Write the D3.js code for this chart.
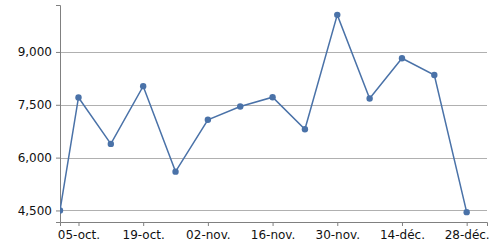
<!DOCTYPE html>
<html>
<head>
<meta charset="utf-8">
<script src="https://cdn.jsdelivr.net/npm/d3@7"></script>
<style>
  body { margin: 0; background: #fff; }
  svg { display: block; font-family: "DejaVu Sans", sans-serif; }
</style>
</head>
<body>
<div id="chart"></div>
<script>
'use strict';

const dates = ['2020-10-01', '2020-10-05', '2020-10-12', '2020-10-19', '2020-10-26',
    '2020-11-02', '2020-11-09', '2020-11-16', '2020-11-23', '2020-11-30',
    '2020-12-07', '2020-12-14', '2020-12-21', '2020-12-28'];
const values = [4500, 7708, 6390, 8029, 5602, 7073, 7452, 7716, 6806, 10053,
    7679, 8821, 8346, 4452];
const xTicks = ['2020-10-05', '2020-10-19', '2020-11-02', '2020-11-16',
    '2020-11-30', '2020-12-14', '2020-12-28'];
const yTicks = [4500, 6000, 7500, 9000];

const width = 496;
const height = 250;
const margin = { top: 5, right: 9, bottom: 28, left: 60 };

const parse = d3.timeParse('%Y-%m-%d');
const fr = d3.timeFormatLocale({
    dateTime: '%A %e %B %Y à %X',
    date: '%d/%m/%Y',
    time: '%H:%M:%S',
    periods: ['AM', 'PM'],
    days: ['dimanche', 'lundi', 'mardi', 'mercredi', 'jeudi', 'vendredi', 'samedi'],
    shortDays: ['dim.', 'lun.', 'mar.', 'mer.', 'jeu.', 'ven.', 'sam.'],
    months: ['janvier', 'février', 'mars', 'avril', 'mai', 'juin', 'juillet',
        'août', 'septembre', 'octobre', 'novembre', 'décembre'],
    shortMonths: ['janv.', 'févr.', 'mars', 'avr.', 'mai', 'juin', 'juil.',
        'août', 'sept.', 'oct.', 'nov.', 'déc.']
});

const data = dates.map((d, i) => ({ date: parse(d), value: values[i] }));

const first = data[0].date;
const last = data[data.length - 1].date;
const xEnd = new Date(+last + 0.05 * (last - first));

const x = d3.scaleTime()
    .domain([first, xEnd])
    .range([margin.left, width - margin.right]);

const vMin = d3.min(values);
const vMax = d3.max(values);
const pad = 0.05 * (vMax - vMin);
const y = d3.scaleLinear()
    .domain([vMin - pad, vMax + pad])
    .range([height - margin.bottom, margin.top]);

const svg = d3.select('#chart')
    .append('svg')
    .attr('width', width)
    .attr('height', height);

svg.append('defs').append('clipPath')
    .attr('id', 'plot')
    .append('rect')
    .attr('x', margin.left)
    .attr('y', margin.top)
    .attr('width', width - margin.left - margin.right)
    .attr('height', height - margin.top - margin.bottom);

// grid lines
svg.append('g')
    .selectAll('line')
    .data(yTicks)
    .join('line')
    .attr('x1', margin.left)
    .attr('x2', width - margin.right)
    .attr('y1', d => Math.round(y(d)) + 0.5)
    .attr('y2', d => Math.round(y(d)) + 0.5)
    .attr('stroke', '#b0b0b0')
    .attr('stroke-width', 1);

const xAxis = svg.append('g')
    .attr('transform', `translate(0,${height - margin.bottom})`)
    .call(d3.axisBottom(x)
        .tickValues(xTicks.map(parse))
        .tickFormat(fr.format('%d-%b'))
        .tickSizeOuter(0)
        .tickSize(4)
        .tickPadding(4));

const yAxis = svg.append('g')
    .attr('transform', `translate(${margin.left},0)`)
    .call(d3.axisLeft(y)
        .tickValues(yTicks)
        .tickFormat(d3.format(','))
        .tickSizeOuter(0)
        .tickSize(4)
        .tickPadding(4));

[xAxis, yAxis].forEach(g => {
    g.select('.domain').attr('stroke', '#808080');
    g.selectAll('.tick line').attr('stroke', '#808080');
    g.selectAll('.tick text')
        .attr('fill', '#111')
        .style('font-size', '12px')
        .style('font-family', '"DejaVu Sans", sans-serif');
});

const plot = svg.append('g').attr('clip-path', 'url(#plot)');

const line = d3.line()
    .x(d => x(d.date))
    .y(d => y(d.value));

plot.append('path')
    .datum(data)
    .attr('fill', 'none')
    .attr('stroke', '#4a72a8')
    .attr('stroke-width', 1.5)
    .attr('d', line);

plot.selectAll('circle')
    .data(data)
    .join('circle')
    .attr('cx', d => x(d.date))
    .attr('cy', d => y(d.value))
    .attr('r', 3.2)
    .attr('fill', '#4a72a8');
</script>
</body>
</html>
